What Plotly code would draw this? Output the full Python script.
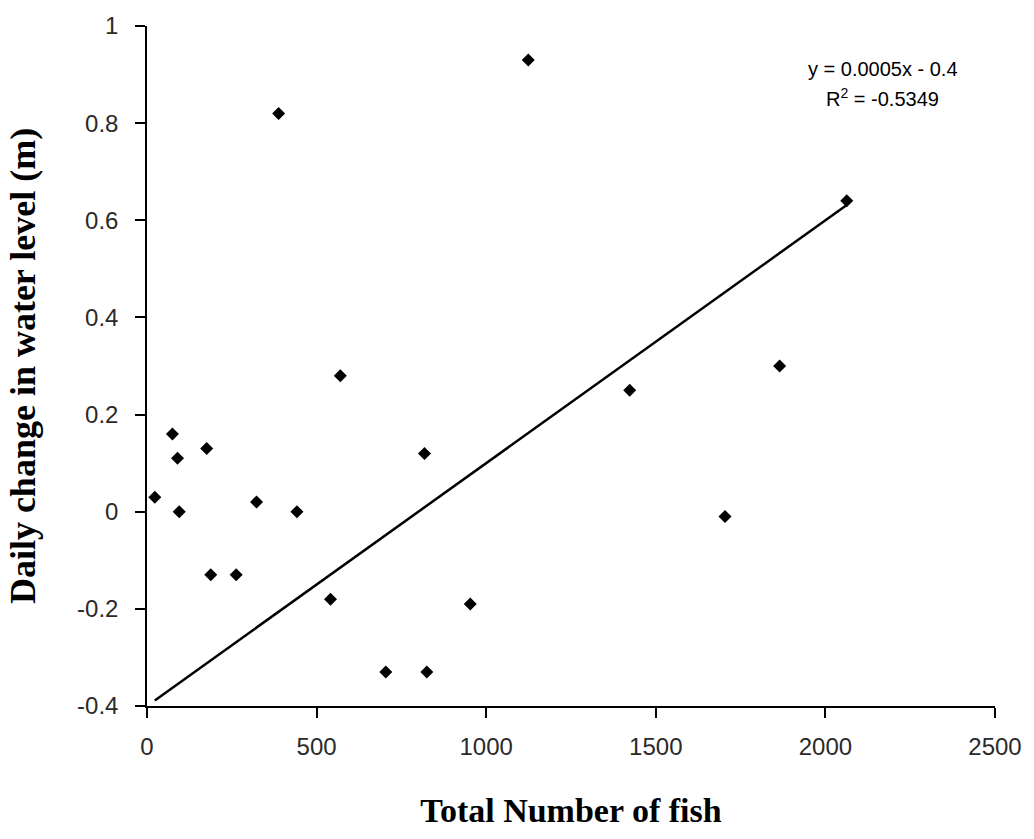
import numpy as np
import plotly.graph_objects as go

# Data
total_fish = [23, 75, 90, 95, 176, 188, 263, 323, 388, 442, 541, 570,
              704, 818, 825, 953, 1124, 1423, 1704, 1865, 2063]
water_change = [0.03, 0.16, 0.11, 0.00, 0.13, -0.13, -0.13, 0.02, 0.82, 0.00, -0.18, 0.28,
                -0.33, 0.12, -0.33, -0.19, 0.93, 0.25, -0.01, 0.30, 0.64]

trend_slope = 0.0005
trend_intercept = -0.4
equation_text = "y = 0.0005x - 0.4"
r2_text = "R<sup>2</sup> = -0.5349"

x_ticks = [0, 500, 1000, 1500, 2000, 2500]
y_ticks = [-0.4, -0.2, 0, 0.2, 0.4, 0.6, 0.8, 1]
y_tick_labels = ["-0.4", "-0.2", "0", "0.2", "0.4", "0.6", "0.8", "1"]

trend_x = np.array([min(total_fish), max(total_fish)])
trend_y = trend_slope * trend_x + trend_intercept

fig = go.Figure()
fig.add_trace(go.Scatter(
    x=trend_x, y=trend_y, mode="lines",
    line=dict(color="black", width=2.5), showlegend=False, hoverinfo="skip"))
fig.add_trace(go.Scatter(
    x=total_fish, y=water_change, mode="markers",
    marker=dict(symbol="diamond", size=10, color="black"),
    showlegend=False))

tick_font = dict(family="Liberation Sans, Arial, sans-serif", size=24, color="#2a2a2a")
serif = "Liberation Serif, Times New Roman, serif"

fig.update_layout(
    width=1034, height=839,
    paper_bgcolor="white", plot_bgcolor="white",
    margin=dict(l=147, r=37, t=21, b=133),
    xaxis=dict(
        range=[0, 2500], tickvals=x_ticks, ticktext=[str(v) for v in x_ticks],
        showline=True, linecolor="black", linewidth=1.5, mirror=False,
        ticks="outside", ticklen=10, tickwidth=1.5, tickcolor="black",
        showgrid=False, zeroline=False, tickfont=tick_font,
        ticklabelstandoff=8,
        title=dict(text="<b>Total Number of fish</b>",
                   font=dict(family=serif, size=34, color="black"), standoff=40),
    ),
    yaxis=dict(
        range=[-0.4, 1], tickvals=y_ticks, ticktext=y_tick_labels,
        showline=True, linecolor="black", linewidth=1.5, mirror=False,
        ticks="outside", ticklen=10, tickwidth=1.5, tickcolor="black",
        showgrid=False, zeroline=False, tickfont=tick_font,
        ticklabelstandoff=12,
        title=dict(text="<b>Daily change in water level (m)</b>",
                   font=dict(family=serif, size=36, color="black"), standoff=30),
    ),
    annotations=[
        dict(x=2169, y=0.912, xref="x", yref="y", text=equation_text, showarrow=False,
             font=dict(family="Liberation Sans, Arial, sans-serif", size=20, color="black")),
        dict(x=2169, y=0.853, xref="x", yref="y", text=r2_text, showarrow=False,
             font=dict(family="Liberation Sans, Arial, sans-serif", size=20, color="black")),
    ],
)

fig.write_html("out.html")
